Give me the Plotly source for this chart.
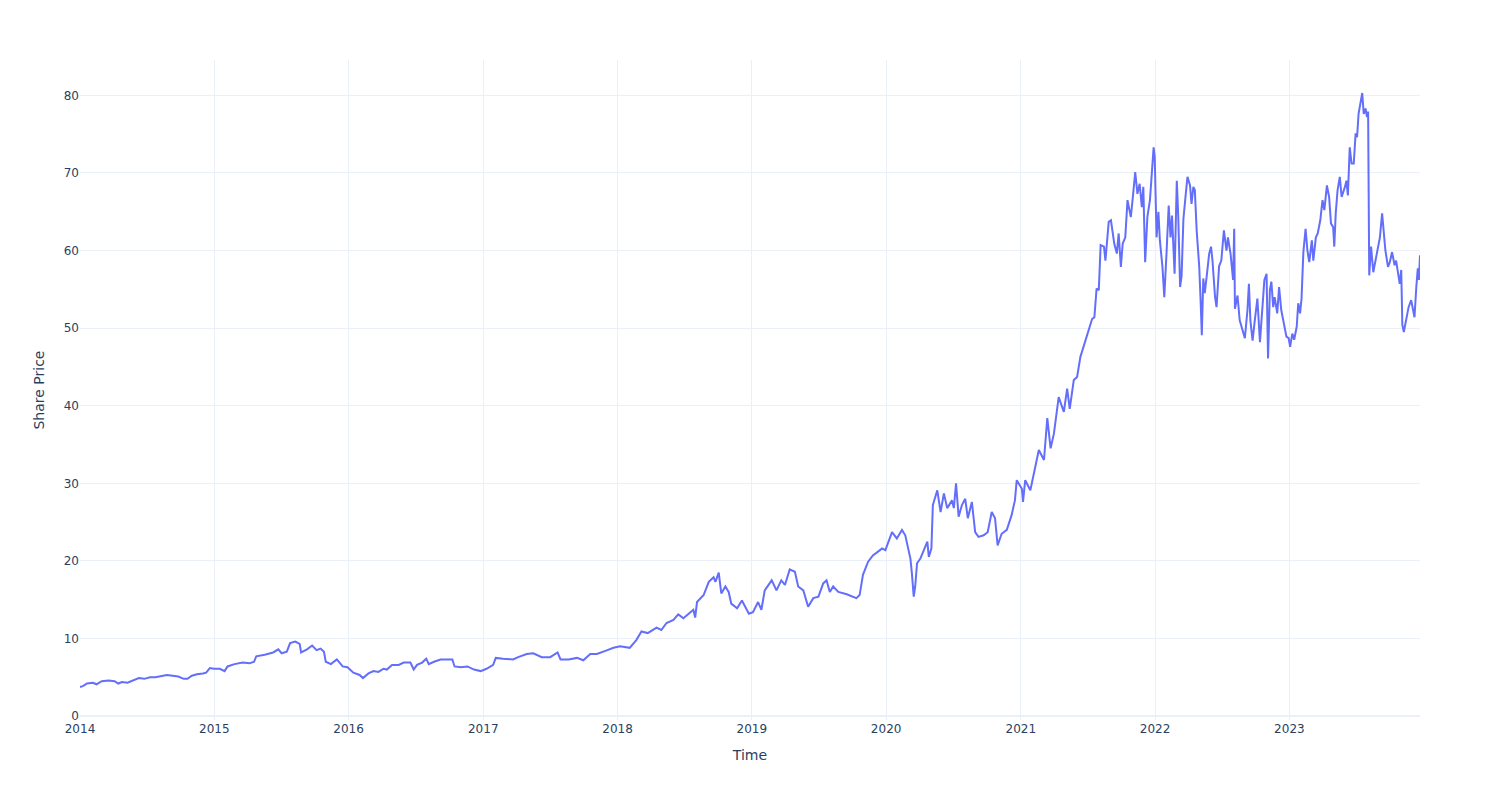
import plotly.graph_objects as go
import pandas as pd

dates_2014 = ["2014-01-01","2014-01-10","2014-01-20","2014-02-05","2014-02-15","2014-03-01","2014-03-20","2014-04-05","2014-04-15","2014-04-25","2014-05-10","2014-05-25","2014-06-10","2014-06-25","2014-07-10","2014-07-25","2014-08-10","2014-08-25","2014-09-10","2014-09-25","2014-10-10","2014-10-20","2014-11-01","2014-11-15","2014-12-01","2014-12-10","2014-12-20","2014-12-31"]
values_2014 = [3.75,3.9,4.2,4.3,4.1,4.5,4.6,4.5,4.2,4.4,4.3,4.6,4.9,4.8,5.0,5.0,5.2,5.3,5.2,5.1,4.8,4.8,5.2,5.4,5.5,5.6,6.2,6.1]

dates_2015 = ["2015-01-16","2015-01-29","2015-02-06","2015-02-25","2015-03-19","2015-04-07","2015-04-19","2015-04-25","2015-05-18","2015-06-10","2015-06-24","2015-07-03","2015-07-17","2015-07-26","2015-08-09","2015-08-21","2015-08-25","2015-09-10","2015-09-24","2015-10-06","2015-10-17","2015-10-26","2015-10-31","2015-11-14","2015-11-30","2015-12-16","2015-12-29"]
values_2015 = [6.1,5.8,6.4,6.7,6.9,6.8,7.0,7.7,7.9,8.2,8.6,8.1,8.3,9.4,9.6,9.3,8.2,8.6,9.1,8.5,8.7,8.3,7.0,6.7,7.3,6.4,6.3]

dates_2016 = ["2016-01-14","2016-01-31","2016-02-09","2016-02-24","2016-03-09","2016-03-22","2016-04-05","2016-04-14","2016-04-28","2016-05-16","2016-05-30","2016-06-17","2016-06-26","2016-07-05","2016-07-19","2016-07-30","2016-08-06","2016-08-20","2016-09-07","2016-09-26","2016-10-09","2016-10-15","2016-11-01","2016-11-19","2016-12-07","2016-12-25"]
values_2016 = [5.6,5.3,4.9,5.5,5.8,5.7,6.1,6.0,6.6,6.6,6.9,6.9,6.0,6.6,6.9,7.4,6.7,7.0,7.3,7.3,7.3,6.4,6.3,6.4,6.0,5.8]

dates_2017 = ["2017-01-10","2017-01-28","2017-02-04","2017-02-24","2017-03-23","2017-04-06","2017-04-29","2017-05-17","2017-06-09","2017-07-02","2017-07-22","2017-07-30","2017-08-21","2017-09-13","2017-09-30","2017-10-19","2017-11-06","2017-11-29","2017-12-21"]
values_2017 = [6.1,6.6,7.5,7.4,7.3,7.6,8.0,8.1,7.6,7.6,8.2,7.3,7.3,7.5,7.2,8.0,8.0,8.4,8.8]

dates_2018 = ["2018-01-08","2018-01-21","2018-02-03","2018-02-21","2018-03-07","2018-03-24","2018-04-17","2018-04-30","2018-05-14","2018-06-02","2018-06-15","2018-06-29","2018-07-13","2018-07-26","2018-07-31","2018-08-05","2018-08-23","2018-09-06","2018-09-19","2018-09-24","2018-10-03","2018-10-10","2018-10-21","2018-10-30","2018-11-06","2018-11-22","2018-12-05","2018-12-24"]
values_2018 = [9.0,8.9,8.8,9.8,10.9,10.7,11.4,11.1,12.0,12.4,13.1,12.6,13.2,13.7,12.7,14.7,15.6,17.3,17.9,17.3,18.5,15.8,16.7,16.0,14.5,13.9,14.9,13.2]

dates_2019 = ["2019-01-04","2019-01-18","2019-01-27","2019-02-05","2019-02-24","2019-03-09","2019-03-22","2019-04-01","2019-04-14","2019-04-28","2019-05-07","2019-05-21","2019-06-03","2019-06-17","2019-07-01","2019-07-14","2019-07-23","2019-08-01","2019-08-10","2019-08-24","2019-09-16","2019-10-03","2019-10-12","2019-10-21","2019-10-30","2019-11-13","2019-11-26","2019-12-10","2019-12-21","2019-12-30"]
values_2019 = [13.4,14.7,13.7,16.2,17.5,16.2,17.5,16.9,18.9,18.6,16.7,16.2,14.1,15.2,15.4,17.1,17.5,16.0,16.7,16.0,15.7,15.4,15.2,15.6,18.2,19.9,20.7,21.2,21.6,21.4]

dates_2020 = ["2020-01-17","2020-01-30","2020-02-13","2020-02-22","2020-03-01","2020-03-07","2020-03-11","2020-03-16","2020-03-20","2020-03-25","2020-04-03","2020-04-13","2020-04-22","2020-04-26","2020-05-03","2020-05-07","2020-05-19","2020-05-28","2020-06-06","2020-06-15","2020-06-28","2020-07-03","2020-07-09","2020-07-16","2020-07-25","2020-08-03","2020-08-10","2020-08-21","2020-08-30","2020-09-08","2020-09-22","2020-10-03","2020-10-14","2020-10-23","2020-10-30","2020-11-10","2020-11-24","2020-12-07","2020-12-16","2020-12-21"]
values_2020 = [23.7,22.9,24.0,23.3,21.6,20.3,18.4,15.4,16.7,19.7,20.3,21.6,22.5,20.5,21.6,27.2,29.1,26.3,28.7,26.8,27.8,26.8,30.0,25.7,27.2,28.0,25.5,27.6,23.7,23.1,23.3,23.7,26.3,25.5,22.0,23.5,24.0,25.9,27.8,30.4]

dates_2021 = ["2021-01-04","2021-01-07","2021-01-13","2021-01-27","2021-02-05","2021-02-19","2021-03-05","2021-03-14","2021-03-23","2021-04-01","2021-04-14","2021-04-28","2021-05-07","2021-05-14","2021-05-25","2021-06-03","2021-06-12","2021-06-26","2021-07-05","2021-07-14","2021-07-20","2021-07-26","2021-08-01","2021-08-06","2021-08-15","2021-08-19","2021-08-28","2021-09-03","2021-09-12","2021-09-19","2021-09-24","2021-09-30","2021-10-05","2021-10-12","2021-10-18","2021-10-27","2021-11-02","2021-11-08","2021-11-14","2021-11-20","2021-11-26","2021-11-30","2021-12-05","2021-12-11","2021-12-18","2021-12-28","2021-12-31"]
values_2021 = [29.3,27.6,30.4,29.1,31.3,34.3,33.0,38.4,34.5,36.4,41.1,39.2,42.2,39.6,43.3,43.7,46.3,48.4,49.7,51.2,51.4,55.1,54.9,60.7,60.5,58.7,63.7,63.9,60.9,59.6,62.2,57.9,60.9,61.7,66.5,64.3,67.1,70.1,67.3,68.6,65.6,68.2,58.5,64.3,66.5,73.3,72.1]

dates_2022 = ["2022-01-05","2022-01-10","2022-01-14","2022-01-21","2022-01-26","2022-02-01","2022-02-07","2022-02-12","2022-02-16","2022-02-23","2022-03-01","2022-03-05","2022-03-10","2022-03-14","2022-03-19","2022-03-25","2022-03-30","2022-04-06","2022-04-10","2022-04-15","2022-04-19","2022-04-24","2022-05-01","2022-05-05","2022-05-08","2022-05-12","2022-05-16","2022-05-22","2022-05-28","2022-06-02","2022-06-06","2022-06-13","2022-06-17","2022-06-24","2022-06-30","2022-07-07","2022-07-14","2022-07-18","2022-07-25","2022-08-01","2022-08-04","2022-08-06","2022-08-13","2022-08-19","2022-08-26","2022-09-02","2022-09-09","2022-09-13","2022-09-17","2022-09-23","2022-09-29","2022-10-06","2022-10-13","2022-10-19","2022-10-25","2022-10-31","2022-11-04","2022-11-09","2022-11-13","2022-11-18","2022-11-22","2022-11-29","2022-12-04","2022-12-10","2022-12-17","2022-12-24","2022-12-30"]
values_2022 = [61.7,65.0,61.3,57.9,54.0,59.6,65.8,61.7,64.5,57.0,69.0,64.3,55.3,56.7,64.1,67.1,69.5,68.4,66.0,68.2,67.8,62.6,57.9,53.2,49.1,56.4,54.5,57.0,59.6,60.5,58.7,54.0,52.7,58.0,58.7,62.6,60.0,61.7,59.6,56.2,62.8,52.5,54.2,51.0,49.7,48.7,52.3,55.7,51.0,48.4,51.0,53.8,48.2,52.3,56.2,57.0,46.1,54.9,56.0,52.7,54.0,51.9,55.3,52.3,50.6,48.9,48.7]

dates_2023 = ["2023-01-03","2023-01-09","2023-01-14","2023-01-21","2023-01-25","2023-01-30","2023-02-03","2023-02-08","2023-02-14","2023-02-19","2023-02-24","2023-03-03","2023-03-07","2023-03-14","2023-03-19","2023-03-26","2023-04-01","2023-04-06","2023-04-13","2023-04-19","2023-04-24","2023-04-30","2023-05-03","2023-05-07","2023-05-12","2023-05-18","2023-05-23","2023-06-01","2023-06-05","2023-06-09","2023-06-14","2023-06-19","2023-06-25","2023-06-30","2023-07-04","2023-07-08","2023-07-13","2023-07-18","2023-07-22","2023-07-27","2023-07-31","2023-08-03","2023-08-06","2023-08-11","2023-08-17","2023-08-23","2023-08-29","2023-09-04","2023-09-10","2023-09-15","2023-09-19","2023-09-26","2023-10-01","2023-10-07","2023-10-14","2023-10-18","2023-10-23","2023-10-28","2023-11-01","2023-11-04","2023-11-08","2023-11-14","2023-11-21","2023-11-28","2023-12-03","2023-12-07","2023-12-12","2023-12-16","2023-12-19","2023-12-22"]
values_2023 = [47.6,49.3,48.5,50.2,53.2,51.9,53.8,59.8,62.8,60.0,58.5,61.3,58.7,61.7,62.2,63.9,66.5,65.2,68.4,66.9,63.5,63.0,60.5,64.8,67.8,69.5,66.9,68.2,69.0,67.1,73.3,71.2,71.2,75.1,74.6,77.6,78.9,80.3,77.6,78.3,77.2,77.9,56.8,60.5,57.2,58.7,60.2,61.7,64.8,62.6,60.0,57.9,58.5,59.8,58.1,58.7,57.2,55.7,57.5,50.4,49.5,50.8,52.7,53.6,52.3,51.4,55.3,57.7,56.2,59.4]

all_dates = (dates_2014 + dates_2015 + dates_2016 + dates_2017 + dates_2018 +
             dates_2019 + dates_2020 + dates_2021 + dates_2022 + dates_2023)
all_values = (values_2014 + values_2015 + values_2016 + values_2017 + values_2018 +
              values_2019 + values_2020 + values_2021 + values_2022 + values_2023)

df = pd.DataFrame({"Time": pd.to_datetime(all_dates), "Share Price": all_values})

fig = go.Figure()
fig.add_trace(go.Scatter(x=df["Time"], y=df["Share Price"], mode="lines",
                         line=dict(color="#636efa", width=2), showlegend=False))
fig.update_layout(template="plotly_white", margin=dict(t=60),
                  font=dict(family="DejaVu Sans, Verdana, sans-serif", color="#2a3f5f"),
                  xaxis_title="Time", yaxis_title="Share Price")
fig.write_html("out.html")
